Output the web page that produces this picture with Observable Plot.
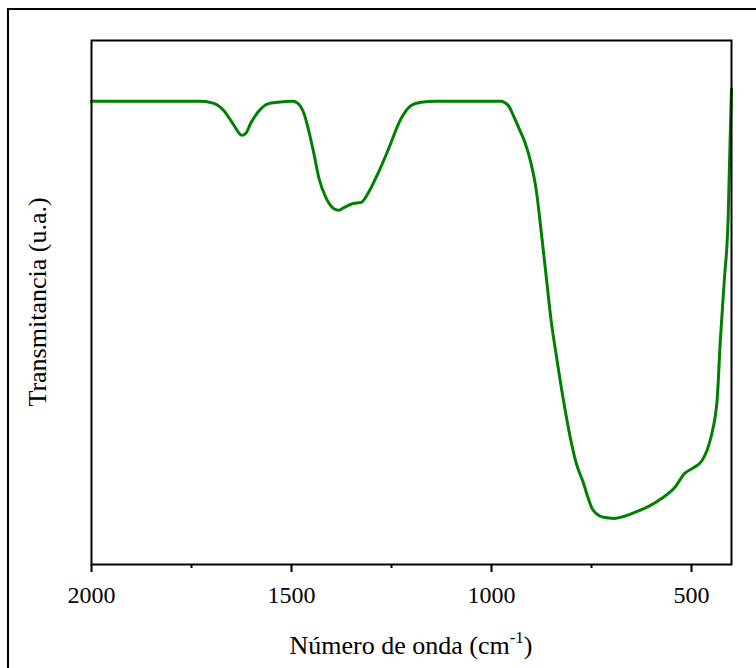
<!DOCTYPE html>
<html>
<head>
<meta charset="utf-8">
<script src="https://cdn.jsdelivr.net/npm/d3@7"></script>
<script src="https://cdn.jsdelivr.net/npm/@observablehq/plot@0.6"></script>
<style>
  html, body { margin: 0; padding: 0; background: #fff; overflow: hidden; }
  #wrap { position: relative; width: 756px; height: 668px; }
  #outer { position: absolute; left: 7px; top: 8px; width: 800px; height: 700px;
           border-left: 2px solid #000; border-top: 2px solid #000; pointer-events: none; }
  #chart { position: absolute; left: 0; top: 0; }
  #chart svg text, #chart svg tspan { font-family: "Liberation Serif", "Times New Roman", Tinos, "DejaVu Serif", serif !important; }
</style>
</head>
<body>
<div id="wrap"><div id="chart"></div><div id="outer"></div></div>
<script>
// Wavenumber (cm^-1)
const wavenumber = [2000, 1777, 1727, 1694, 1669, 1647, 1624, 1614, 1602, 1584, 1559, 1534, 1497, 1484,
  1469, 1457, 1444, 1432, 1414, 1394, 1382, 1369, 1346, 1326, 1309, 1284, 1259, 1226, 1201, 1176,
  1139, 1001, 976, 968, 958, 943, 931, 918, 901, 888, 876, 863, 851, 838, 820, 800, 788, 770,
  758, 750, 738, 720, 693, 668, 643, 607, 575, 542, 517, 494, 474, 461, 449, 441, 436, 428, 418,
  408, 405, 400];
// Transmittance (arbitrary units, 0-100)
const transmittance = [88.4, 88.4, 88.4, 88.0, 86.6, 84.2, 81.9, 82.3, 84.2, 86.3, 87.9, 88.2, 88.4, 88.0,
  86.1, 82.8, 78.4, 73.9, 70.0, 67.9, 67.6, 68.1, 68.9, 69.1, 70.8, 74.6, 79.0, 85.1, 87.6, 88.2,
  88.4, 88.4, 88.4, 88.2, 87.6, 85.3, 83.2, 80.9, 76.5, 71.4, 63.7, 54.8, 46.6, 39.9, 31.3,
  23.1, 19.3, 15.5, 12.6, 10.9, 9.7, 9.0, 8.8, 9.2, 9.9, 11.1, 12.6, 14.7, 17.4, 18.5, 19.8, 21.8,
  25.0, 28.1, 31.3, 42.7, 54.2, 67.0, 76.5, 90.8];
const majorTicks = [2000, 1500, 1000, 500];
const minorTicks = [1750, 1250, 750];
const xLabel = "Número de onda (cm";
const xLabelSup = "-1";
const yLabel = "Transmitancia (u.a.)";

const data = wavenumber.map((w, i) => ({w, t: transmittance[i]}));
const font = "Liberation Serif, Times New Roman, serif";

const plot = Plot.plot({
  width: 756,
  height: 668,
  marginLeft: 91,
  marginRight: 25,
  marginTop: 40,
  marginBottom: 104,
  style: {fontFamily: font, fontSize: "24px", background: "transparent", color: "#000", overflow: "visible"},
  x: {domain: [2000, 400], label: null},
  y: {domain: [0, 100], label: null, axis: null},
  marks: [
    Plot.axisX({ticks: majorTicks, tickSize: 8, tickPadding: 13, strokeWidth: 2,
      tickFormat: d => String(d), fontSize: 24, fill: "#000", label: null}),
    Plot.axisX({ticks: minorTicks, tickSize: 4, strokeWidth: 2, tickFormat: () => "", label: null}),
    Plot.line(data, {x: "w", y: "t", stroke: "#008000", strokeWidth: 3, curve: "monotone-x"}),
    Plot.frame({stroke: "#000", strokeWidth: 2})
  ]
});
document.getElementById("chart").appendChild(plot);

const svg = d3.select(plot);
const xr = plot.scale("x").range;
const yr = plot.scale("y").range;
const cx = (xr[0] + xr[1]) / 2;
const cy = (yr[0] + yr[1]) / 2;
const xt = svg.append("text")
  .attr("x", cx).attr("y", 654)
  .attr("text-anchor", "middle")
  .attr("font-size", 26).attr("fill", "#000");
xt.append("tspan").text(xLabel);
xt.append("tspan").attr("dy", -11).attr("font-size", 17).text(xLabelSup);
xt.append("tspan").attr("dy", 11).text(")");
svg.append("text")
  .attr("transform", `translate(46,${cy}) rotate(-90)`)
  .attr("text-anchor", "middle")
  .attr("font-size", 26).attr("fill", "#000")
  .text(yLabel);
</script>
</body>
</html>
